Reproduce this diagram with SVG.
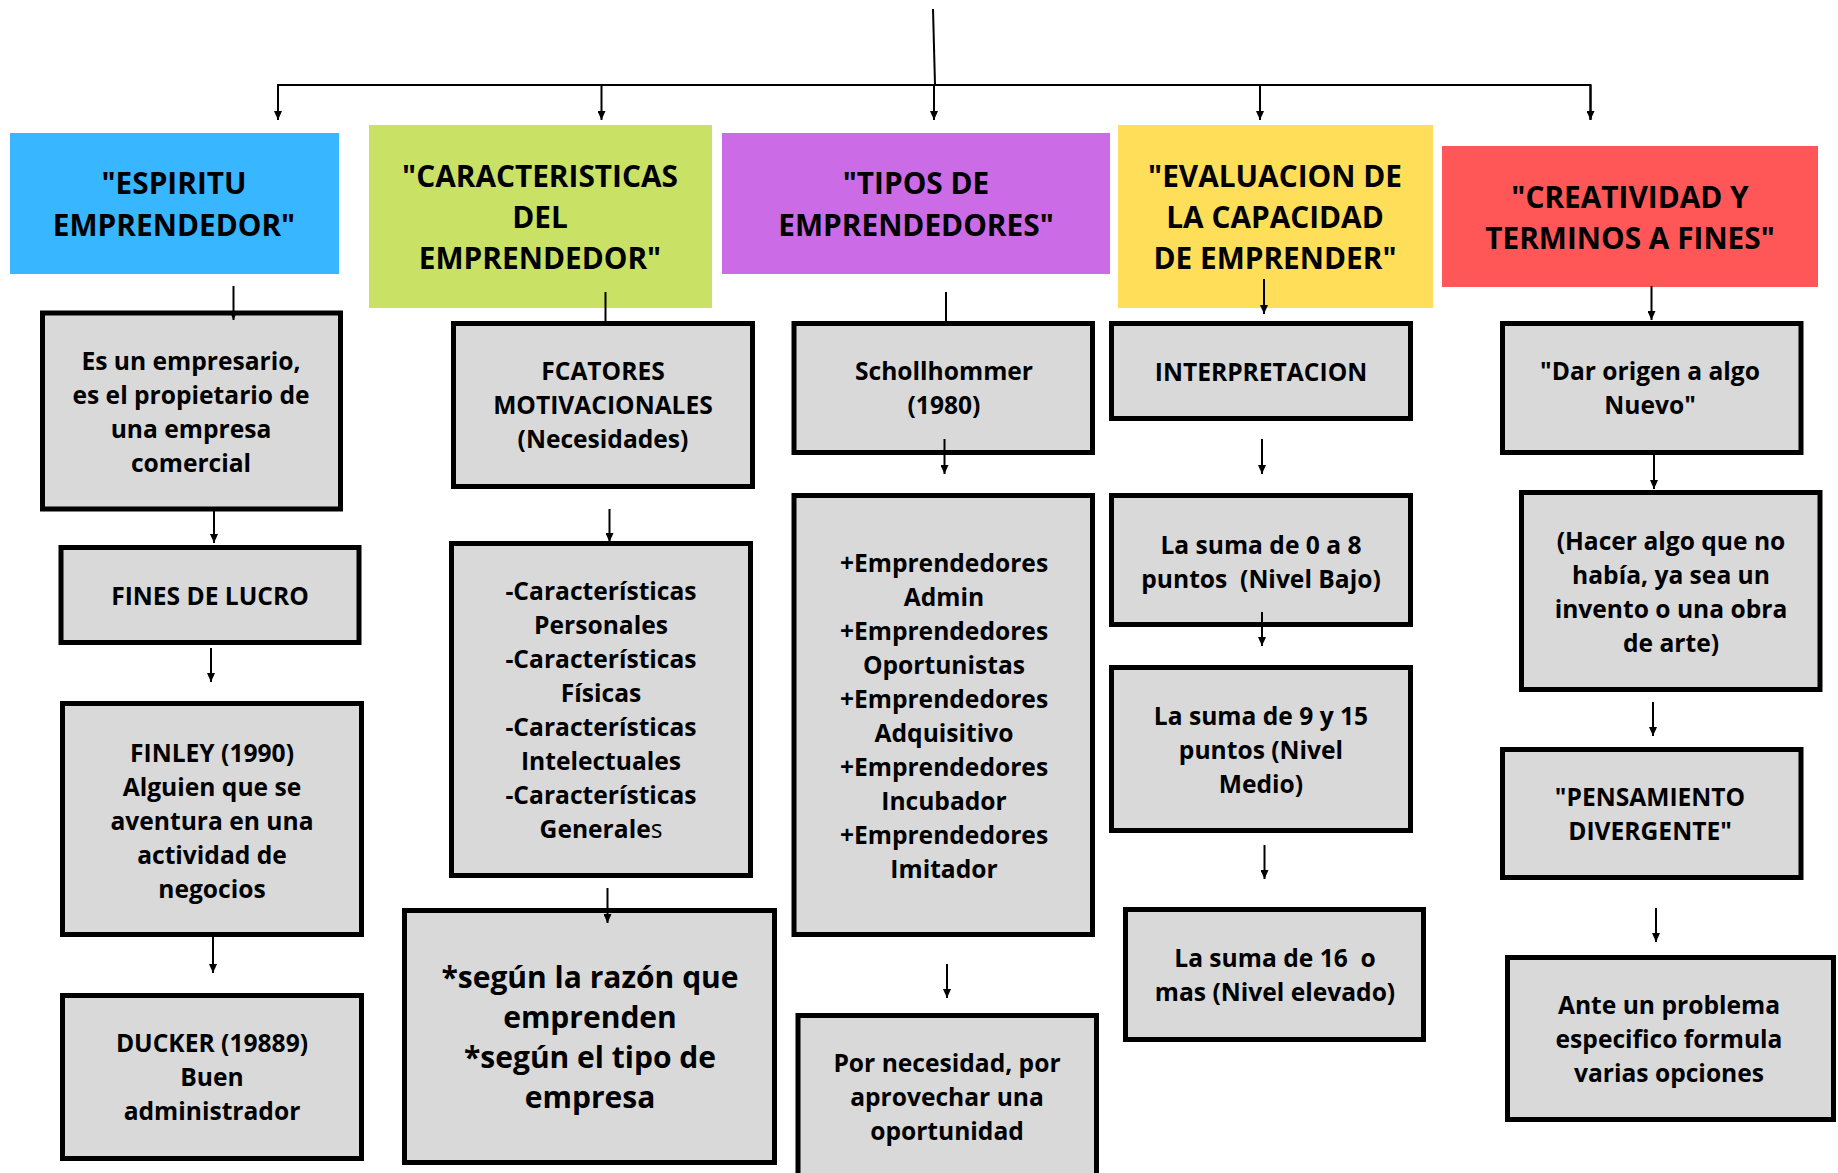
<svg xmlns="http://www.w3.org/2000/svg" width="1838" height="1173" viewBox="0 0 1838 1173">
<defs>
<marker id="ah" markerUnits="userSpaceOnUse" markerWidth="8" markerHeight="9" refX="4" refY="9" orient="0" viewBox="0 0 8 9">
<path d="M0,0 L8,0 L4,9 z" fill="#000"/>
</marker>
</defs>
<style>
.hd text, .hd{font-family:"Open Sans","DejaVu Sans",sans-serif;font-weight:700;font-size:29.8px;fill:#000;text-anchor:middle}
.bx rect{fill:#D9D9D9;stroke:#000;stroke-width:5}
.t{font-family:"Open Sans","DejaVu Sans",sans-serif;font-weight:700;font-size:24.6px;fill:#000;text-anchor:middle}
.big{font-size:30px}
.c line,.c path{stroke:#000;stroke-width:2;fill:none}
.c .a{marker-end:url(#ah)}
</style>
<rect width="1838" height="1173" fill="#fff"/>

<g id="h1"><rect x="10" y="133" width="329" height="141" fill="#38B6FF"/>
<text class="hd" x="174"><tspan x="174" y="194">"ESPIRITU</tspan><tspan x="174" y="236">EMPRENDEDOR"</tspan></text></g>
<g id="h2"><rect x="369" y="125" width="343" height="183" fill="#C9E265"/>
<text class="hd"><tspan x="540" y="187">"CARACTERISTICAS</tspan><tspan x="540" y="228">DEL</tspan><tspan x="540" y="269">EMPRENDEDOR"</tspan></text></g>
<g id="h3"><rect x="722" y="133" width="388" height="141" fill="#CB6CE6"/>
<text class="hd"><tspan x="916" y="194">"TIPOS DE</tspan><tspan x="916" y="236">EMPRENDEDORES"</tspan></text></g>
<g id="h4"><rect x="1118" y="125" width="315" height="183" fill="#FFDE59"/>
<text class="hd"><tspan x="1275" y="187">"EVALUACION DE</tspan><tspan x="1275" y="228">LA CAPACIDAD</tspan><tspan x="1275" y="269">DE EMPRENDER"</tspan></text></g>
<g id="h5"><rect x="1442" y="146" width="376" height="141" fill="#FF5757"/>
<text class="hd"><tspan x="1630" y="208">"CREATIVIDAD Y</tspan><tspan x="1630" y="249">TERMINOS A FINES"</tspan></text></g>

<g id="n1" class="bx"><rect x="42.5" y="313" width="298" height="196"/>
<text class="t"><tspan x="191" y="370">Es un empresario,</tspan><tspan x="191" y="404">es el propietario de</tspan><tspan x="191" y="438">una empresa</tspan><tspan x="191" y="472">comercial</tspan></text></g>
<g id="n2" class="bx"><rect x="61" y="547.5" width="298" height="95"/>
<text class="t" x="210" y="605">FINES DE LUCRO</text></g>
<g id="n3" class="bx"><rect x="62.5" y="703.5" width="299" height="231"/>
<text class="t"><tspan x="212" y="762">FINLEY (1990)</tspan><tspan x="212" y="796">Alguien que se</tspan><tspan x="212" y="830">aventura en una</tspan><tspan x="212" y="864">actividad de</tspan><tspan x="212" y="898">negocios</tspan></text></g>
<g id="n4" class="bx"><rect x="62.5" y="995.5" width="299" height="163"/>
<text class="t"><tspan x="212" y="1052">DUCKER (19889)</tspan><tspan x="212" y="1086">Buen</tspan><tspan x="212" y="1120">administrador</tspan></text></g>

<g id="n5" class="bx"><rect x="453.5" y="323.5" width="299" height="163"/>
<text class="t"><tspan x="603" y="380">FCATORES</tspan><tspan x="603" y="414">MOTIVACIONALES</tspan><tspan x="603" y="448">(Necesidades)</tspan></text></g>
<g id="n6" class="bx"><rect x="451.5" y="543.5" width="299" height="332"/>
<text class="t"><tspan x="601" y="600">-Características</tspan><tspan x="601" y="634">Personales</tspan><tspan x="601" y="668">-Características</tspan><tspan x="601" y="702">Físicas</tspan><tspan x="601" y="736">-Características</tspan><tspan x="601" y="770">Intelectuales</tspan><tspan x="601" y="804">-Características</tspan><tspan x="601" y="838">Genera<tspan>le</tspan><tspan font-weight="400">s</tspan></tspan></text></g>
<g id="n7" class="bx"><rect x="404.5" y="910.5" width="370" height="252"/>
<text class="t big"><tspan x="590" y="988">*según la razón que</tspan><tspan x="590" y="1028">emprenden</tspan><tspan x="590" y="1068">*según el tipo de</tspan><tspan x="590" y="1108">empresa</tspan></text></g>

<g id="n8" class="bx"><rect x="794" y="323.5" width="298.5" height="129"/>
<text class="t"><tspan x="944" y="380">Schollhommer</tspan><tspan x="944" y="414">(1980)</tspan></text></g>
<g id="n9" class="bx"><rect x="794" y="495.5" width="298.5" height="439"/>
<text class="t"><tspan x="944" y="572">+Emprendedores</tspan><tspan x="944" y="606">Admin</tspan><tspan x="944" y="640">+Emprendedores</tspan><tspan x="944" y="674">Oportunistas</tspan><tspan x="944" y="708">+Emprendedores</tspan><tspan x="944" y="742">Adquisitivo</tspan><tspan x="944" y="776">+Emprendedores</tspan><tspan x="944" y="810">Incubador</tspan><tspan x="944" y="844">+Emprendedores</tspan><tspan x="944" y="878">Imitador</tspan></text></g>
<g id="n10" class="bx"><rect x="798" y="1015.5" width="298.5" height="170"/>
<text class="t"><tspan x="947" y="1072">Por necesidad, por</tspan><tspan x="947" y="1106">aprovechar una</tspan><tspan x="947" y="1140">oportunidad</tspan></text></g>

<g id="n11" class="bx"><rect x="1111.5" y="323.5" width="299" height="95"/>
<text class="t" x="1261" y="381">INTERPRETACION</text></g>
<g id="n12" class="bx"><rect x="1111.5" y="495.5" width="299" height="129"/>
<text class="t"><tspan x="1261" y="554">La suma de 0 a 8</tspan><tspan x="1261" y="588" xml:space="preserve">puntos  (Nivel Bajo)</tspan></text></g>
<g id="n13" class="bx"><rect x="1111.5" y="667.5" width="299" height="163"/>
<text class="t"><tspan x="1261" y="725">La suma de 9 y 15</tspan><tspan x="1261" y="759">puntos (Nivel</tspan><tspan x="1261" y="793">Medio)</tspan></text></g>
<g id="n14" class="bx"><rect x="1125.5" y="909.5" width="298" height="130"/>
<text class="t"><tspan x="1275" y="967" xml:space="preserve">La suma de 16  o</tspan><tspan x="1275" y="1001">mas (Nivel elevado)</tspan></text></g>

<g id="n15" class="bx"><rect x="1502.5" y="323.5" width="298.5" height="129"/>
<text class="t"><tspan x="1650" y="380">"Dar origen a algo</tspan><tspan x="1650" y="414">Nuevo"</tspan></text></g>
<g id="n16" class="bx"><rect x="1521.5" y="492.5" width="298.5" height="197"/>
<text class="t"><tspan x="1671" y="550">(Hacer algo que no</tspan><tspan x="1671" y="584">había, ya sea un</tspan><tspan x="1671" y="618">invento o una obra</tspan><tspan x="1671" y="652">de arte)</tspan></text></g>
<g id="n17" class="bx"><rect x="1502.5" y="749.5" width="298.5" height="128"/>
<text class="t"><tspan x="1650" y="806">"PENSAMIENTO</tspan><tspan x="1650" y="840">DIVERGENTE"</tspan></text></g>
<g id="n18" class="bx"><rect x="1507.5" y="957.5" width="326" height="162"/>
<text class="t"><tspan x="1669" y="1014">Ante un problema</tspan><tspan x="1669" y="1048">especifico formula</tspan><tspan x="1669" y="1082">varias opciones</tspan></text></g>

<g id="connectors" class="c">
<line x1="933" y1="9" x2="935" y2="85" stroke-width="2.5"/>
<path d="M278,120 V85 H1590.5 V120" stroke-width="2.5" fill="none"/>
<line class="a" x1="278" y1="85" x2="278" y2="120"/>
<line class="a" x1="601.5" y1="85" x2="601.5" y2="120"/>
<line class="a" x1="934" y1="85" x2="934" y2="120"/>
<line class="a" x1="1260" y1="85" x2="1260" y2="120"/>
<line class="a" x1="1590.5" y1="85" x2="1590.5" y2="120"/>

<line class="a" x1="233.5" y1="286" x2="233.5" y2="320"/>
<line class="a" x1="214" y1="511" x2="214" y2="543"/>
<line class="a" x1="211" y1="648" x2="211" y2="682"/>
<line class="a" x1="213" y1="937" x2="213" y2="973"/>

<line x1="605.5" y1="292" x2="605.5" y2="325"/>
<line class="a" x1="609.5" y1="509" x2="609.5" y2="542"/>
<line class="a" x1="607.5" y1="888" x2="607.5" y2="923"/>

<line x1="946" y1="292" x2="946" y2="325"/>
<line class="a" x1="944.5" y1="439" x2="944.5" y2="474"/>
<line class="a" x1="947" y1="964" x2="947" y2="998"/>

<line class="a" x1="1264" y1="279" x2="1264" y2="314"/>
<line class="a" x1="1262" y1="439" x2="1262" y2="474"/>
<line class="a" x1="1262" y1="612" x2="1262" y2="646"/>
<line class="a" x1="1264.5" y1="845" x2="1264.5" y2="879"/>

<line class="a" x1="1651.5" y1="286" x2="1651.5" y2="320"/>
<line class="a" x1="1654" y1="455" x2="1654" y2="489"/>
<line class="a" x1="1653" y1="702" x2="1653" y2="736"/>
<line class="a" x1="1656" y1="908" x2="1656" y2="942"/>
</g>
</svg>
